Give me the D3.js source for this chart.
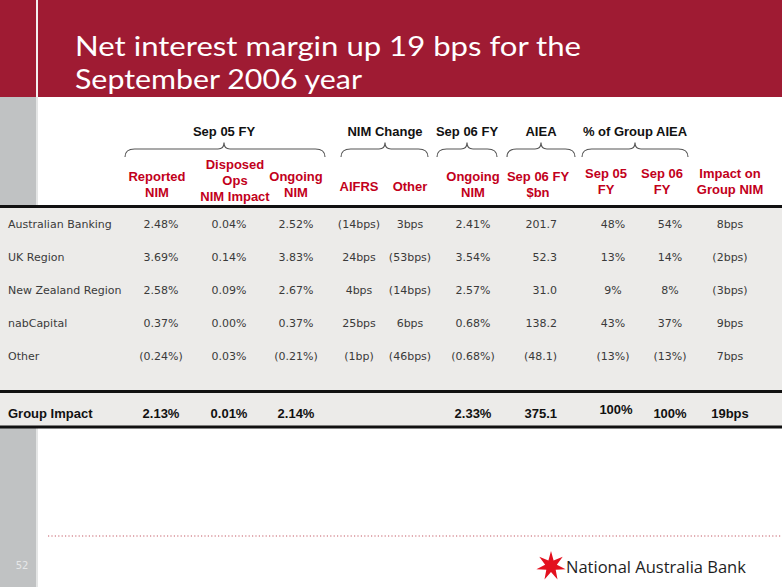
<!DOCTYPE html>
<html>
<head>
<meta charset="utf-8">
<script src="https://cdn.jsdelivr.net/npm/d3@7"></script>
<style>
  html, body { margin: 0; padding: 0; background: #ffffff; }
  svg { display: block; }
</style>
</head>
<body>
<svg id="chart" width="782" height="587"></svg>
<script>
// ---------------- DATA ----------------
const titleLines = ["Net interest margin up 19 bps for the", "September 2006 year"];
const categories = ["Australian Banking", "UK Region", "New Zealand Region", "nabCapital", "Other"];
const reportedNIM05 = [2.48, 3.69, 2.58, 0.37, -0.24];
const disposedOpsImpact = [0.04, 0.14, 0.09, 0.00, 0.03];
const ongoingNIM05 = [2.52, 3.83, 2.67, 0.37, -0.21];
const aifrsChangeBps = [-14, 24, 4, 25, -1];
const otherChangeBps = [3, -53, -14, 6, -46];
const ongoingNIM06 = [2.41, 3.54, 2.57, 0.68, -0.68];
const aieaSep06Bn = [201.7, 52.3, 31.0, 138.2, -48.1];
const shareAIEA05 = [48, 13, 9, 43, -13];
const shareAIEA06 = [54, 14, 8, 37, -13];
const impactOnGroupBps = [8, -2, -3, 9, 7];
const totalLabel = "Group Impact";
const groupTotals = {reported: 2.13, disposed: 0.01, ongoing05: 2.14, ongoing06: 2.33, aiea: 375.1, share05: 100, share06: 100, impact: 19};

const columnKeys = ["reported", "disposed", "ongoing05", "aifrs", "other", "ongoing06", "aiea", "share05", "share06", "impact"];
const columnHeaders = [["Reported", "NIM"], ["Disposed", "Ops", "NIM Impact"], ["Ongoing", "NIM"], ["AIFRS"], ["Other"],
                       ["Ongoing", "NIM"], ["Sep 06 FY", "$bn"], ["Sep 05", "FY"], ["Sep 06", "FY"], ["Impact on", "Group NIM"]];
const groupHeaders = [
  {label: "Sep 05 FY", from: "reported", to: "ongoing05"},
  {label: "NIM Change", from: "aifrs", to: "other"},
  {label: "Sep 06 FY", from: "ongoing06", to: "ongoing06"},
  {label: "AIEA", from: "aiea", to: "aiea"},
  {label: "% of Group AIEA", from: "share05", to: "share06"}
];
const pageNumber = "52";
const bankName = "National Australia Bank";

// ---------------- FORMATTERS ----------------
const paren = (v, s) => v < 0 ? "(" + s + ")" : s;
const fmtPct = v => paren(v, d3.format(".2f")(Math.abs(v)) + "%");
const fmtBps = v => paren(v, Math.abs(v) + (Math.abs(v) === 1 ? "bp" : "bps"));
const fmtBn = v => paren(v, d3.format(".1f")(Math.abs(v)));
const fmtShare = v => paren(v, Math.abs(v) + "%");

const columns = {
  reported: {values: reportedNIM05, fmt: fmtPct},
  disposed: {values: disposedOpsImpact, fmt: fmtPct},
  ongoing05: {values: ongoingNIM05, fmt: fmtPct},
  aifrs: {values: aifrsChangeBps, fmt: fmtBps},
  other: {values: otherChangeBps, fmt: fmtBps},
  ongoing06: {values: ongoingNIM06, fmt: fmtPct},
  aiea: {values: aieaSep06Bn, fmt: fmtBn},
  share05: {values: shareAIEA05, fmt: fmtShare},
  share06: {values: shareAIEA06, fmt: fmtShare},
  impact: {values: impactOnGroupBps, fmt: fmtBps}
};

// ---------------- LAYOUT ----------------
const W = 782, H = 587;
const svg = d3.select("#chart");
const RED = "#9f1b33";
const HEAD_RED = "#c2001b";

// column centre scale
const x = d3.scaleOrdinal().domain(columnKeys)
  .range([161, 229, 296, 359, 410, 473, 541, 613, 670, 730]);
const colAnchor = k => k === "aiea" ? "end" : "middle";
const colX = k => k === "aiea" ? 557 : x(k);
// row scale
const y = d3.scaleBand().domain(categories).range([207.5, 372.5]).padding(0);

// left grey strip
svg.append("rect").attr("x", 0).attr("y", 0).attr("width", 36).attr("height", H).attr("fill", "#c0c2c3");
// header band
svg.append("rect").attr("x", 0).attr("y", 0).attr("width", W).attr("height", 97).attr("fill", RED);
svg.append("rect").attr("x", 36).attr("y", 0).attr("width", 2).attr("height", 97).attr("fill", "#f4f0f0");
svg.append("rect").attr("x", 36).attr("y", 97).attr("width", 2).attr("height", H - 97).attr("fill", "#e4e5e5");

// title
svg.append("g").selectAll("text").data(titleLines).join("text")
  .attr("x", 75).attr("y", (d, i) => 56 + i * 33)
  .attr("fill", "#ffffff")
  .attr("font-family", "Lato, 'Liberation Sans', sans-serif")
  .attr("font-size", 27)
  .attr("textLength", (d, i) => i === 0 ? 506 : 287)
  .attr("lengthAdjust", "spacingAndGlyphs")
  .text(d => d);

// table background
svg.append("rect").attr("x", 0).attr("y", 207).attr("width", W).attr("height", 221).attr("fill", "#ecebe9");
// rules
[206.5, 391.5, 427].forEach(yy => {
  svg.append("line").attr("x1", 0).attr("x2", W).attr("y1", yy).attr("y2", yy)
    .attr("stroke", "#111").attr("stroke-width", 3);
});

// group headers + braces
const braceExt = {reported: [125, 325], aifrs: [341, 428], ongoing06: [437, 497], aiea: [507, 575], share05: [582, 688]};
const tipX = {"Sep 05 FY": 224, "NIM Change": 385, "Sep 06 FY": 467, "AIEA": 541, "% of Group AIEA": 635};
const gh = svg.append("g");
groupHeaders.forEach(g => {
  const [x1, x2] = braceExt[g.from];
  const xm = tipX[g.label];
  gh.append("text").attr("x", xm).attr("y", 136).attr("text-anchor", "middle")
    .attr("font-family", "'Liberation Sans', Arial, sans-serif").attr("font-weight", "bold")
    .attr("font-size", 13).attr("fill", "#111").text(g.label);
  const y0 = 142.5, ym = 149, y1 = 157, r = 6;
  const p = d3.path();
  p.moveTo(x1, y1);
  p.quadraticCurveTo(x1, ym, x1 + r * 1.6, ym);
  p.lineTo(xm - r, ym);
  p.quadraticCurveTo(xm, ym, xm, y0);
  p.quadraticCurveTo(xm, ym, xm + r, ym);
  p.lineTo(x2 - r * 1.6, ym);
  p.quadraticCurveTo(x2, ym, x2, y1);
  gh.append("path").attr("d", p.toString()).attr("fill", "none")
    .attr("stroke", "#555").attr("stroke-width", 1.1);
});

// column headers (red)
const ch = svg.append("g");
columnKeys.forEach((k, i) => {
  const lines = columnHeaders[i];
  let base;
  if (lines.length === 3) base = 169;
  else if (lines.length === 1) base = 191;
  else if (k === "share05" || k === "share06" || k === "impact") base = 178;
  else base = 181;
  const hx = x(k) - (k === "aiea" ? 3 : 0) - (k === "reported" ? 4 : 0) + (k === "disposed" ? 6 : 0) + (k === "share05" ? -7 : 0) + (k === "share06" ? -8 : 0);
  ch.append("text").attr("x", hx)
    .attr("text-anchor", "middle")
    .attr("font-family", "'Liberation Sans', Arial, sans-serif").attr("font-weight", "bold")
    .attr("font-size", 13).attr("fill", HEAD_RED)
    .selectAll("tspan").data(lines).join("tspan")
    .attr("x", hx)
    .attr("y", (d, j) => base + j * 16)
    .text(d => d);
});

// data rows
const body = svg.append("g")
  .attr("font-family", "'DejaVu Sans', Verdana, sans-serif")
  .attr("font-size", 11).attr("fill", "#3a3a3a");
body.selectAll("text.cat").data(categories).join("text")
  .attr("class", "cat")
  .attr("x", 8).attr("y", d => y(d) + y.bandwidth() / 2 + 4)
  .text(d => d);
columnKeys.forEach(k => {
  const col = columns[k];
  body.selectAll("text.c-" + k).data(col.values).join("text")
    .attr("class", "c-" + k)
    .attr("x", colX(k))
    .attr("y", (d, i) => y(categories[i]) + y.bandwidth() / 2 + 4)
    .attr("text-anchor", colAnchor(k))
    .text(d => col.fmt(d));
});

// totals row
const tot = svg.append("g")
  .attr("font-family", "'Liberation Sans', Arial, sans-serif")
  .attr("font-weight", "bold").attr("font-size", 13).attr("fill", "#111");
tot.append("text").attr("x", 8).attr("y", 418).text(totalLabel);
const totFmt = {reported: fmtPct, disposed: fmtPct, ongoing05: fmtPct, ongoing06: fmtPct, aiea: fmtBn, share05: fmtShare, share06: fmtShare, impact: fmtBps};
Object.keys(groupTotals).forEach(k => {
  tot.append("text").attr("x", colX(k) + (k === "share05" ? 3 : 0))
    .attr("y", k === "share05" ? 414 : 418)
    .attr("text-anchor", colAnchor(k))
    .text(totFmt[k](groupTotals[k]));
});

// footer dotted rule
svg.append("line").attr("x1", 48).attr("x2", W).attr("y1", 536).attr("y2", 536)
  .attr("stroke", "#c45a66").attr("stroke-width", 1.2).attr("stroke-dasharray", "1.2,2.2");

// page number
svg.append("text").attr("x", 22).attr("y", 569).attr("text-anchor", "middle")
  .attr("font-family", "'DejaVu Sans', sans-serif").attr("font-size", 10)
  .attr("fill", "#e6e7e8").text(pageNumber);

// NAB star logo
const starPts = [];
const nPts = 7, cx = 551, cy = 566;
for (let i = 0; i < nPts * 2; i++) {
  const ang = -Math.PI / 2 + i * Math.PI / nPts;
  const rr = i % 2 === 0 ? 15 : 6;
  starPts.push([cx + rr * Math.cos(ang), cy + rr * Math.sin(ang)]);
}
svg.append("path").attr("d", d3.line()(starPts) + "Z").attr("fill", "#e3101e");
svg.append("text").attr("x", 566).attr("y", 573)
  .attr("font-family", "'Open Sans', 'Noto Sans', sans-serif").attr("font-size", 16.5)
  .attr("fill", "#1e1e1e").text(bankName);
</script>
</body>
</html>
